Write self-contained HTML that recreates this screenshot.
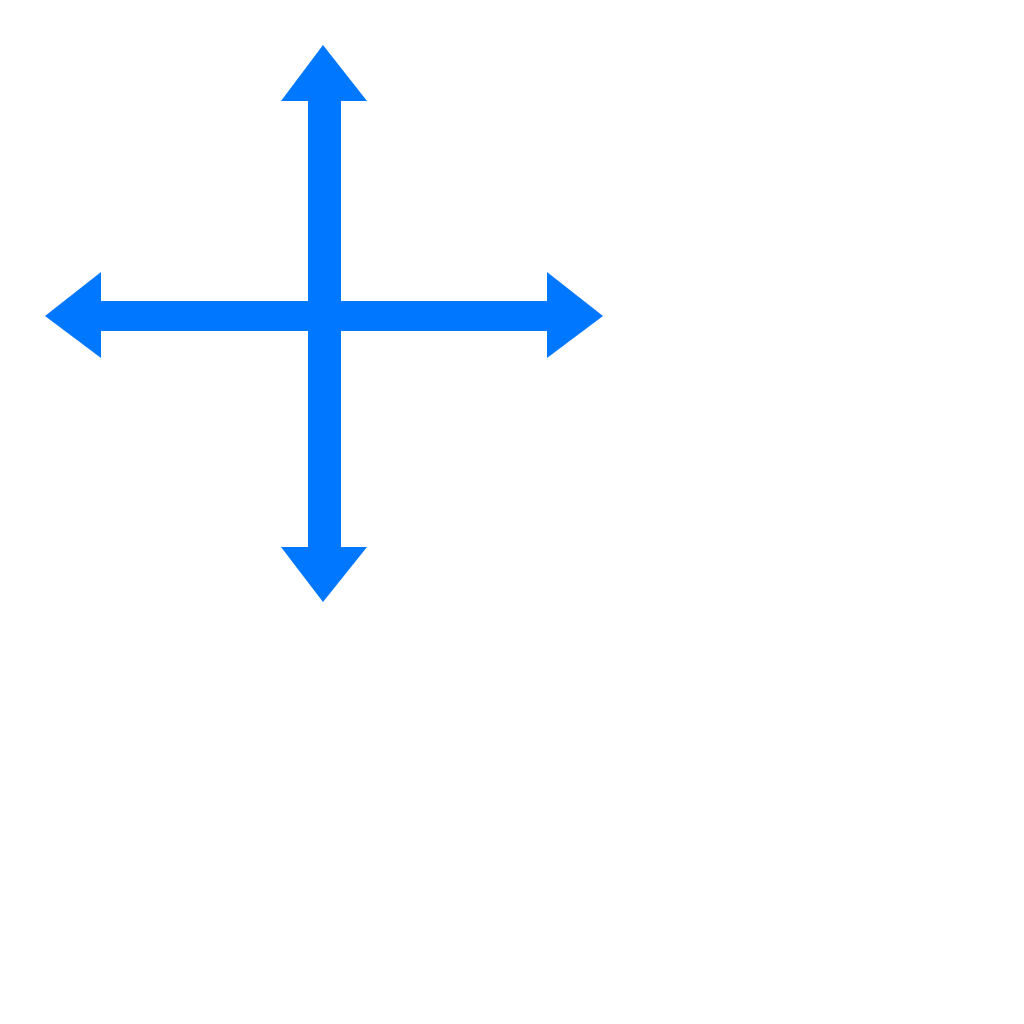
<!DOCTYPE html>
<html><head><style>html,body{margin:0;padding:0;background:#fff;width:1024px;height:1024px;overflow:hidden}</style></head>
<body>
<svg width="1024" height="1024" viewBox="0 0 1024 1024" xmlns="http://www.w3.org/2000/svg">
<g fill="#0077ff">
<rect x="308" y="95" width="33" height="458"/>
<rect x="95" y="301" width="458" height="30"/>
<polygon points="323,45 367,101 281,101"/>
<polygon points="323,602 367,547 281,547"/>
<polygon points="45,316 101,272 101,358"/>
<polygon points="603,316 547,272 547,358"/>
</g>
</svg>
</body></html>
